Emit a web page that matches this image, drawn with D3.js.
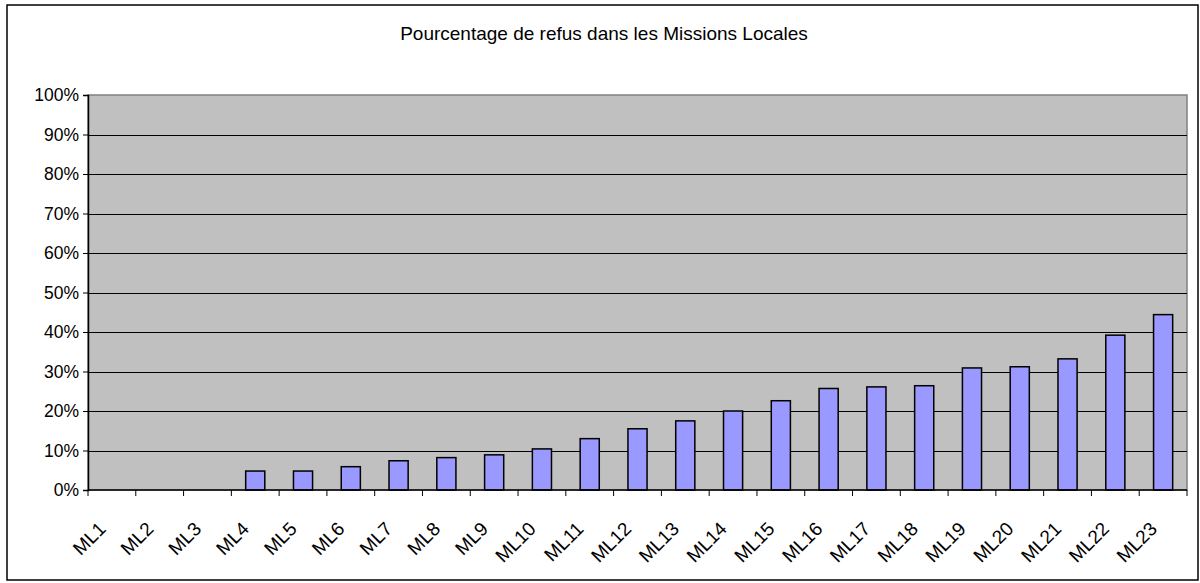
<!DOCTYPE html>
<html>
<head>
<meta charset="utf-8">
<script src="https://d3js.org/d3.v7.min.js"></script>
<style>
  body { margin: 0; background: #fff; }
  text { font-family: "Liberation Sans", Arial, sans-serif; fill: #000; }
</style>
</head>
<body>
<svg id="chart" width="1200" height="583"></svg>
<script>
// données
var categories = ["ML1","ML2","ML3","ML4","ML5","ML6","ML7","ML8","ML9","ML10","ML11","ML12",
  "ML13","ML14","ML15","ML16","ML17","ML18","ML19","ML20","ML21","ML22","ML23"];
var refus = [0, 0, 0, 0.048, 0.048, 0.059, 0.074, 0.082, 0.089, 0.104, 0.130, 0.155,
  0.175, 0.200, 0.226, 0.257, 0.261, 0.264, 0.309, 0.312, 0.332, 0.392, 0.444];
var yTicks = [0, 0.1, 0.2, 0.3, 0.4, 0.5, 0.6, 0.7, 0.8, 0.9, 1];
var title = "Pourcentage de refus dans les Missions Locales";

var plot = { left: 88, right: 1187, top: 95, bottom: 490 };

var svg = d3.select("#chart");

// cadre extérieur
svg.append("rect")
  .attr("x", 7).attr("y", 5)
  .attr("width", 1191).attr("height", 575)
  .attr("fill", "#fff")
  .attr("stroke", "#000")
  .attr("stroke-width", 1.5);

var x = d3.scaleBand()
  .domain(categories)
  .range([plot.left, plot.right])
  .padding(0);

var y = d3.scaleLinear()
  .domain([0, 1])
  .range([plot.bottom, plot.top]);

// fond gris
svg.append("rect")
  .attr("x", plot.left).attr("y", plot.top)
  .attr("width", plot.right - plot.left)
  .attr("height", plot.bottom - plot.top)
  .attr("fill", "#c0c0c0")
  .attr("stroke", "#808080")
  .attr("stroke-width", 1.5);

// grille
svg.append("g")
  .selectAll("line")
  .data(yTicks.slice(1, -1))
  .join("line")
  .attr("x1", plot.left).attr("x2", plot.right)
  .attr("y1", d => Math.round(y(d)) + 0.5)
  .attr("y2", d => Math.round(y(d)) + 0.5)
  .attr("stroke", "#000")
  .attr("stroke-width", 1);

// barres
var bw = x.bandwidth();
svg.append("g")
  .selectAll("rect")
  .data(categories.filter((c, i) => refus[i] > 0))
  .join("rect")
  .attr("x", c => x(c) + bw * 0.3)
  .attr("y", c => y(refus[categories.indexOf(c)]))
  .attr("width", bw * 0.4)
  .attr("height", c => plot.bottom - y(refus[categories.indexOf(c)]))
  .attr("fill", "#9999ff")
  .attr("stroke", "#000")
  .attr("stroke-width", 1.5);

// axe Y
var yAxis = d3.axisLeft(y)
  .tickValues(yTicks)
  .tickFormat(d3.format(".0%"))
  .tickSize(5)
  .tickPadding(4);

var gy = svg.append("g")
  .attr("transform", "translate(" + plot.left + ",0)")
  .call(yAxis);
gy.select(".domain").attr("stroke", "#000").attr("stroke-width", 1.5);
gy.selectAll(".tick text")
  .style("font-size", "17.5px");

// axe X (graduations entre catégories)
var gx = svg.append("g")
  .attr("transform", "translate(0," + plot.bottom + ")");
gx.append("line")
  .attr("x1", plot.left).attr("x2", plot.right)
  .attr("stroke", "#000").attr("stroke-width", 1.5);
gx.selectAll(".sep")
  .data(categories.concat([null]))
  .join("line")
  .attr("class", "sep")
  .attr("x1", (d, i) => plot.left + i * bw)
  .attr("x2", (d, i) => plot.left + i * bw)
  .attr("y1", 0).attr("y2", 6)
  .attr("stroke", "#000");

gx.selectAll(".lbl")
  .data(categories)
  .join("text")
  .attr("class", "lbl")
  .attr("text-anchor", "end")
  .style("font-size", "19px")
  .attr("transform", d => "translate(" + (x(d) + bw / 2 - 5) + ",40) rotate(-45)")
  .text(d => d);

// titre
svg.append("text")
  .attr("x", 604).attr("y", 40)
  .attr("text-anchor", "middle")
  .style("font-size", "19px")
  .text(title);
</script>
</body>
</html>
